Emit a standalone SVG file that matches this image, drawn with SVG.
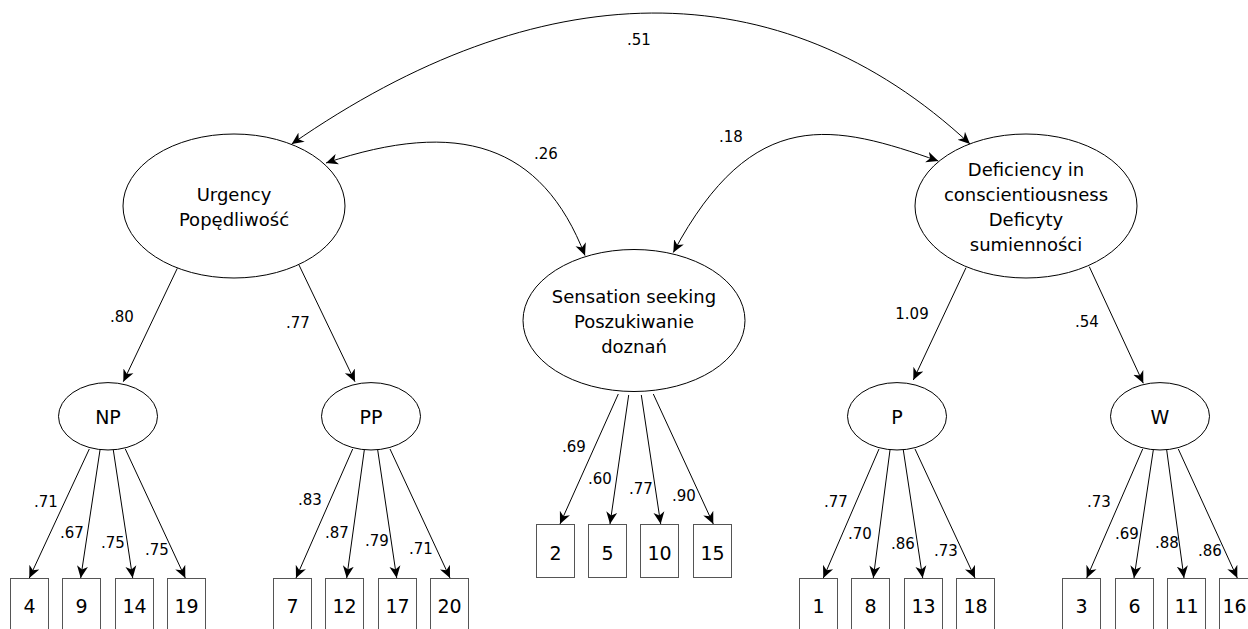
<svg xmlns="http://www.w3.org/2000/svg" width="1248" height="629" viewBox="0 0 1248 629">
<style>
.lat{fill:#fff;stroke:#000;stroke-width:1}
.box{fill:#fff;stroke:#555;stroke-width:1}
.big{font-family:"DejaVu Sans",sans-serif;font-size:18px;text-anchor:middle;fill:#000}
.nt{font-family:"DejaVu Sans",sans-serif;font-size:19px;text-anchor:middle;fill:#000}
.lb{font-family:"DejaVu Sans",sans-serif;font-size:15px;text-anchor:middle;fill:#000}
.c{fill:none;stroke:#000;stroke-width:1;marker-end:url(#ah)}
.cc{fill:none;stroke:#000;stroke-width:1;marker-end:url(#ah);marker-start:url(#ah)}
</style>
<defs>
<marker id="ah" viewBox="-12 -6 12 12" refX="0" refY="0" markerWidth="12" markerHeight="12" markerUnits="userSpaceOnUse" orient="auto-start-reverse">
<path d="M0,0 L-12,-5.5 L-8.5,0 L-12,5.5 Z" fill="#000"/>
</marker>
</defs>
<g id="connectors">
<path class="cc" d="M291.7,144 C537.7,-27 778.7,-34.2 970,144"/>
<path class="cc" d="M326,163 C459,118.2 541.8,143.9 585,255.5"/>
<path class="cc" d="M938.3,161 C834.9,124.7 753.2,102.9 673.3,252.5"/>
<line class="c" x1="177.3" y1="268.3" x2="123.3" y2="381.7"/>
<line class="c" x1="299" y1="265" x2="355" y2="381.7"/>
<line class="c" x1="966" y1="267.7" x2="913.3" y2="380"/>
<line class="c" x1="1089.3" y1="266.7" x2="1143.3" y2="383.3"/>
<line class="c" x1="89.3" y1="449" x2="29.3" y2="578"/>
<line class="c" x1="100" y1="450" x2="80.7" y2="578"/>
<line class="c" x1="113.3" y1="450" x2="132.7" y2="578"/>
<line class="c" x1="125.3" y1="449" x2="185.3" y2="578"/>
<line class="c" x1="352.7" y1="449" x2="296" y2="578"/>
<line class="c" x1="364.3" y1="450" x2="346.7" y2="578"/>
<line class="c" x1="377.7" y1="450" x2="396.7" y2="578"/>
<line class="c" x1="390" y1="449" x2="450" y2="578"/>
<line class="c" x1="618.3" y1="394" x2="560" y2="524"/>
<line class="c" x1="628.7" y1="395" x2="610" y2="524"/>
<line class="c" x1="641.3" y1="395" x2="660.7" y2="524"/>
<line class="c" x1="653.3" y1="394" x2="713.3" y2="524"/>
<line class="c" x1="879" y1="449" x2="823.3" y2="578"/>
<line class="c" x1="890" y1="450" x2="873.3" y2="578"/>
<line class="c" x1="903.3" y1="450" x2="922.7" y2="578"/>
<line class="c" x1="915" y1="449" x2="975" y2="578"/>
<line class="c" x1="1142.7" y1="449" x2="1086.7" y2="578"/>
<line class="c" x1="1153.3" y1="450" x2="1134" y2="578"/>
<line class="c" x1="1166.7" y1="450" x2="1184" y2="578"/>
<line class="c" x1="1178.3" y1="449" x2="1237.3" y2="578"/>
<text class="lb" x="639" y="45">.51</text>
<text class="lb" x="546" y="159">.26</text>
<text class="lb" x="731" y="142">.18</text>
<text class="lb" x="122" y="321.5">.80</text>
<text class="lb" x="298" y="328">.77</text>
<text class="lb" x="912" y="319">1.09</text>
<text class="lb" x="1087" y="327">.54</text>
<text class="lb" x="46" y="507">.71</text>
<text class="lb" x="72" y="538">.67</text>
<text class="lb" x="113" y="548">.75</text>
<text class="lb" x="157" y="555">.75</text>
<text class="lb" x="310" y="505">.83</text>
<text class="lb" x="337" y="537.5">.87</text>
<text class="lb" x="377" y="546">.79</text>
<text class="lb" x="421" y="554">.71</text>
<text class="lb" x="574" y="452">.69</text>
<text class="lb" x="600" y="484">.60</text>
<text class="lb" x="641" y="494">.77</text>
<text class="lb" x="684" y="500.5">.90</text>
<text class="lb" x="836" y="506.5">.77</text>
<text class="lb" x="860" y="539">.70</text>
<text class="lb" x="903" y="549">.86</text>
<text class="lb" x="946" y="555.5">.73</text>
<text class="lb" x="1099" y="506.5">.73</text>
<text class="lb" x="1127" y="539">.69</text>
<text class="lb" x="1167" y="548">.88</text>
<text class="lb" x="1210" y="555.5">.86</text>
</g>
<g id="urgency"><ellipse class="lat" cx="234" cy="206" rx="111" ry="72"/><text class="big" x="234" y="201">Urgency</text><text class="big" x="234" y="226">Popędliwość</text></g>
<g id="sensation"><ellipse class="lat" cx="634" cy="320.5" rx="111" ry="71"/><text class="big" x="634" y="303">Sensation seeking</text><text class="big" x="634" y="328">Poszukiwanie</text><text class="big" x="634" y="353">doznań</text></g>
<g id="deficiency"><ellipse class="lat" cx="1026" cy="206" rx="111" ry="72"/><text class="big" x="1026" y="176">Deficiency in</text><text class="big" x="1026" y="201">conscientiousness</text><text class="big" x="1026" y="226">Deficyty</text><text class="big" x="1026" y="251">sumienności</text></g>
<g id="np"><ellipse class="lat" cx="108" cy="416.3" rx="49.5" ry="33.7"/><text class="nt" x="108" y="424">NP</text></g>
<g id="pp"><ellipse class="lat" cx="371" cy="416.3" rx="49.5" ry="33.7"/><text class="nt" x="371" y="424">PP</text></g>
<g id="p"><ellipse class="lat" cx="897" cy="416.3" rx="49.5" ry="33.7"/><text class="nt" x="897" y="424">P</text></g>
<g id="w"><ellipse class="lat" cx="1160" cy="416.3" rx="49.5" ry="33.7"/><text class="nt" x="1160" y="424">W</text></g>
<g id="i4"><rect class="box" x="10.5" y="578.5" width="38" height="60"/><text class="nt" x="29.5" y="612.5">4</text></g>
<g id="i9"><rect class="box" x="62.5" y="578.5" width="38" height="60"/><text class="nt" x="81.5" y="612.5">9</text></g>
<g id="i14"><rect class="box" x="115.5" y="578.5" width="38" height="60"/><text class="nt" x="134.5" y="612.5">14</text></g>
<g id="i19"><rect class="box" x="167.5" y="578.5" width="38" height="60"/><text class="nt" x="186.5" y="612.5">19</text></g>
<g id="i7"><rect class="box" x="273.5" y="578.5" width="38" height="60"/><text class="nt" x="292.5" y="612.5">7</text></g>
<g id="i12"><rect class="box" x="325.5" y="578.5" width="38" height="60"/><text class="nt" x="344.5" y="612.5">12</text></g>
<g id="i17"><rect class="box" x="378.5" y="578.5" width="38" height="60"/><text class="nt" x="397.5" y="612.5">17</text></g>
<g id="i20"><rect class="box" x="430.5" y="578.5" width="38" height="60"/><text class="nt" x="449.5" y="612.5">20</text></g>
<g id="i2"><rect class="box" x="536.5" y="524.5" width="38" height="53"/><text class="nt" x="555.5" y="559.5">2</text></g>
<g id="i5"><rect class="box" x="588.5" y="524.5" width="38" height="53"/><text class="nt" x="607.5" y="559.5">5</text></g>
<g id="i10"><rect class="box" x="640.5" y="524.5" width="38" height="53"/><text class="nt" x="659.5" y="559.5">10</text></g>
<g id="i15"><rect class="box" x="693.5" y="524.5" width="38" height="53"/><text class="nt" x="712.5" y="559.5">15</text></g>
<g id="i1"><rect class="box" x="799.5" y="578.5" width="38" height="60"/><text class="nt" x="818.5" y="612.5">1</text></g>
<g id="i8"><rect class="box" x="851.5" y="578.5" width="38" height="60"/><text class="nt" x="870.5" y="612.5">8</text></g>
<g id="i13"><rect class="box" x="904.5" y="578.5" width="38" height="60"/><text class="nt" x="923.5" y="612.5">13</text></g>
<g id="i18"><rect class="box" x="956.5" y="578.5" width="38" height="60"/><text class="nt" x="975.5" y="612.5">18</text></g>
<g id="i3"><rect class="box" x="1062.5" y="578.5" width="38" height="60"/><text class="nt" x="1081.5" y="612.5">3</text></g>
<g id="i6"><rect class="box" x="1115.5" y="578.5" width="38" height="60"/><text class="nt" x="1134.5" y="612.5">6</text></g>
<g id="i11"><rect class="box" x="1167.5" y="578.5" width="38" height="60"/><text class="nt" x="1186.5" y="612.5">11</text></g>
<g id="i16"><rect class="box" x="1219.5" y="578.5" width="38" height="60"/><text class="nt" x="1234.5" y="612.5">16</text></g>
</svg>
